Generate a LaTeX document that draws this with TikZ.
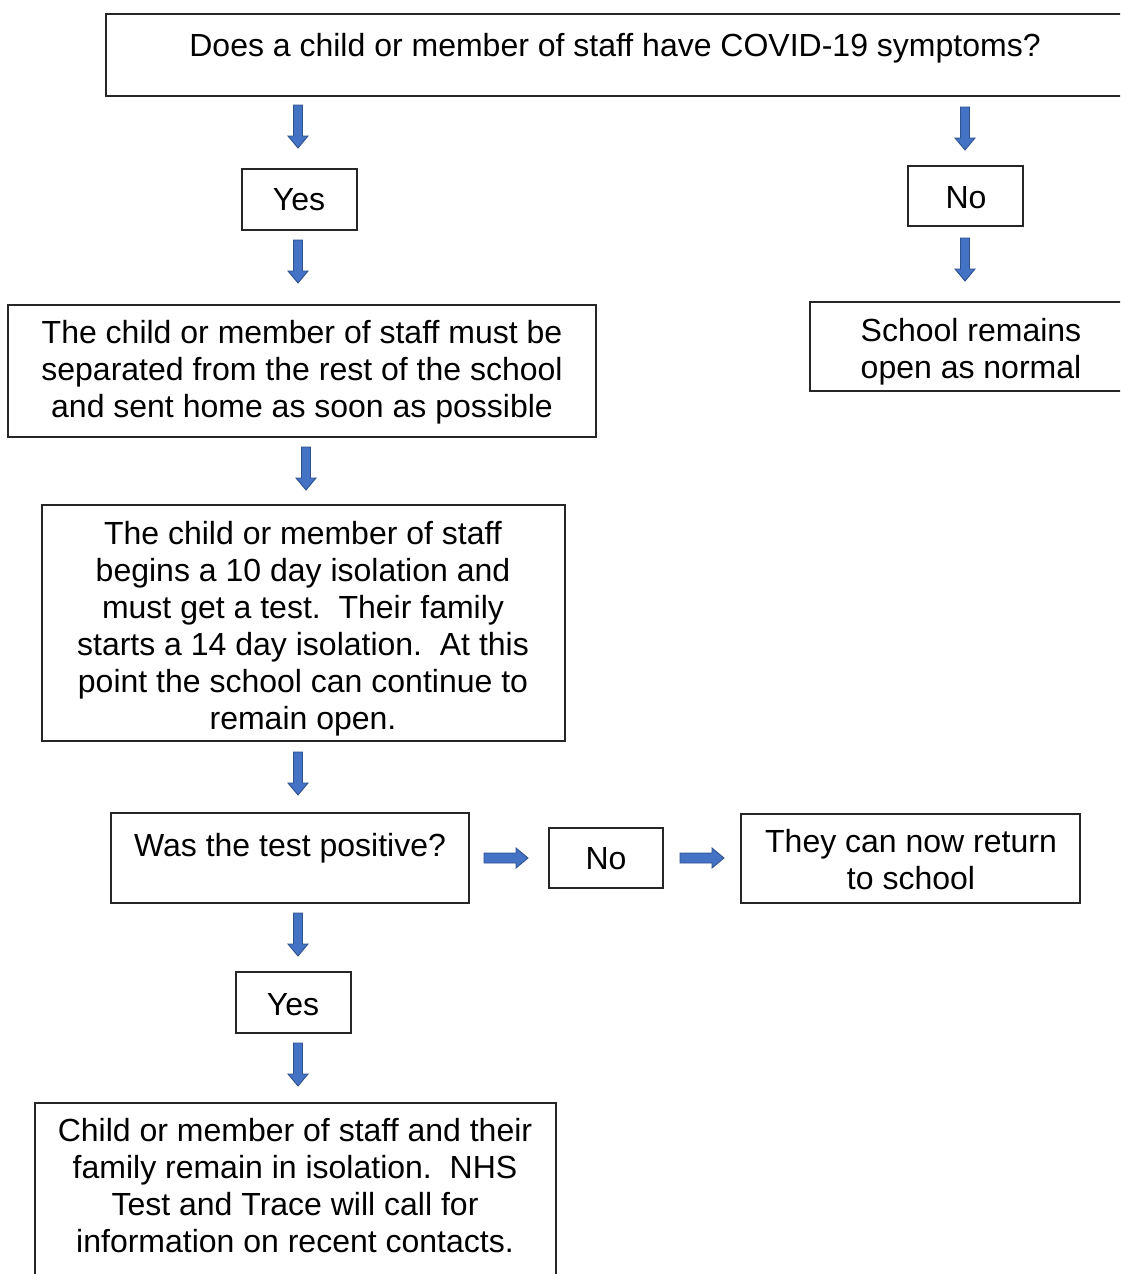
\documentclass[tikz,border=0pt]{standalone}
\usepackage{fontspec}
\setmainfont{Liberation Sans}
\definecolor{arrowfill}{HTML}{4472C4}
\definecolor{arrowline}{HTML}{2F528F}
\definecolor{boxline}{HTML}{262626}
\begin{document}
\begin{tikzpicture}[x=1pt,y=-1pt,
  box/.style={draw=boxline, line width=1.2pt, inner sep=0pt, outer sep=0pt, anchor=north west},
  txt/.style={anchor=north, inner sep=0pt, align=center, font=\fontsize{32}{37}\selectfont, execute at begin node=\strut, yshift=-3.5pt},
  blockarrow/.style={fill=arrowfill, draw=arrowline, line width=0.9pt, line join=miter},
  darrow/.pic={\path[blockarrow] (-4.5,0) -- (4.5,0) -- (4.5,31) -- (10,31) -- (0,43) -- (-10,31) -- (-4.5,31) -- cycle;},
  rarrow/.pic={\path[blockarrow] (0,-5) -- (32,-5) -- (32,-10) -- (44,0) -- (32,10) -- (32,5) -- (0,5) -- cycle;}
]
\useasboundingbox (0,0) rectangle (1120,1274);
\clip (0,0) rectangle (1120,1274);
\fill[white] (0,0) rectangle (1120,1274);

% boxes
\node[box, minimum width=1040pt, minimum height=82pt] (top) at (106,14) {};
\node[box, minimum width=115pt, minimum height=61pt] (yes1) at (242,169) {};
\node[box, minimum width=115pt, minimum height=60pt] (no1) at (908,166) {};
\node[box, minimum width=588pt, minimum height=132pt] (sep) at (8,305) {};
\node[box, minimum width=330pt, minimum height=89pt] (school) at (810,302) {};
\node[box, minimum width=523pt, minimum height=236pt] (iso) at (42,505) {};
\node[box, minimum width=358pt, minimum height=90pt] (was) at (111,813) {};
\node[box, minimum width=114pt, minimum height=60pt] (no2) at (549,828) {};
\node[box, minimum width=339pt, minimum height=89pt] (they) at (741,814) {};
\node[box, minimum width=115pt, minimum height=61pt] (yes2) at (236,972) {};
\node[box, minimum width=521pt, minimum height=220pt] (bottom) at (35,1103) {};

% texts
\node[txt] (ttop) at (615,27.1) {Does a child or member of staff have COVID-19 symptoms?};
\node[txt] (tyes1) at (299,181.1) {Yes};
\node[txt] (tno1) at (966,179.1) {No};
\node[txt] (tsep) at (302,317.1) {The child or member of staff must be\\separated from the rest of the school\\and sent home as soon as possible};
\node[txt] (tschool) at (971,315.1) {School remains\\open as normal};
\node[txt] (tiso) at (303,518.1) {The child or member of staff\\begins a 10 day isolation and\\must get a test.\ \ Their family\\starts a 14 day isolation.\ \ At this\\point the school can continue to\\remain open.};
\node[txt] (twas) at (290,827.1) {Was the test positive?};
\node[txt] (tno2) at (606,840.1) {No};
\node[txt] (tthey) at (911,826.1) {They can now return\\to school};
\node[txt] (tyes2) at (293,986.1) {Yes};
\node[txt] (tbottom) at (295,1114.1) {Child or member of staff and their\\family remain in isolation.\ \ NHS\\Test and Trace will call for\\information on recent contacts.};

% block arrows
\pic at (298,105) {darrow};
\pic at (298,240) {darrow};
\pic at (965,107) {darrow};
\pic at (965,238) {darrow};
\pic at (306,447) {darrow};
\pic at (298,752) {darrow};
\pic at (298,913) {darrow};
\pic at (298,1043) {darrow};
\pic at (484,858) {rarrow};
\pic at (680,858) {rarrow};
\end{tikzpicture}
\end{document}
